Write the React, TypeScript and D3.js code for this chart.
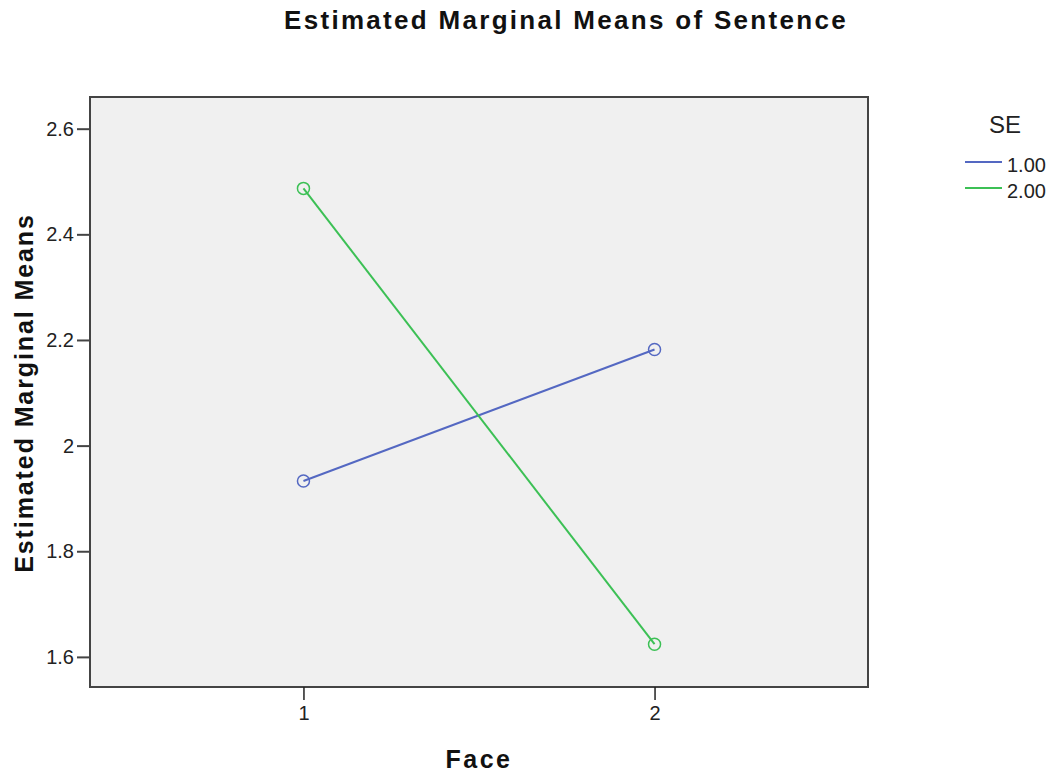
import React, {useEffect, useRef} from 'react';
import * as d3 from 'd3';

const faces = ['1', '2'];
const seriesNames = ['1.00', '2.00'];
const seValues1 = [1.933, 2.182];
const seValues2 = [2.487, 1.624];
const yTicks = [1.6, 1.8, 2.0, 2.2, 2.4, 2.6];
const colors = ['#5468c2', '#3cc055'];

const App = () => {
  const svgRef = useRef<SVGSVGElement>(null);

  useEffect(() => {
    const width = 1053;
    const height = 778;
    const margin = { top: 97, right: 185, bottom: 91, left: 90 };
    const svg = d3.select(svgRef.current);
    svg.selectAll('*').remove();

    const font = 'Arial, "Liberation Sans", sans-serif';

    const x = d3.scalePoint<string>()
      .domain(faces)
      .range([margin.left, width - margin.right])
      .padding(0.608);

    const y = d3.scaleLinear()
      .domain([1.543, 2.66])
      .range([height - margin.bottom, margin.top]);

    svg.append('rect')
      .attr('x', margin.left)
      .attr('y', margin.top)
      .attr('width', width - margin.left - margin.right)
      .attr('height', height - margin.top - margin.bottom)
      .attr('fill', '#f0f0f0')
      .attr('stroke', '#444')
      .attr('stroke-width', 2);

    // y axis
    const yAxis = svg.append('g')
      .attr('transform', `translate(${margin.left},0)`)
      .call(d3.axisLeft(y).tickValues(yTicks).tickSize(13).tickPadding(3)
        .tickFormat(d => d3.format('~g')(d as number)));
    yAxis.select('.domain').remove();
    yAxis.selectAll('line').attr('stroke', '#444').attr('stroke-width', 2);
    yAxis.selectAll('text')
      .attr('font-family', font)
      .style('font-size', '20px')
      .attr('fill', '#222');

    const xAxis = svg.append('g')
      .attr('transform', `translate(0,${height - margin.bottom})`)
      .call(d3.axisBottom(x).tickSize(13).tickPadding(6));
    xAxis.select('.domain').remove();
    xAxis.selectAll('line').attr('stroke', '#222').attr('stroke-width', 1.5);
    xAxis.selectAll('text')
      .attr('font-family', font)
      .style('font-size', '20px')
      .attr('fill', '#222');

    const allSeries = [seValues1, seValues2];
    const line = d3.line<number>()
      .x((_, i) => x(faces[i]) as number)
      .y(v => y(v));

    allSeries.forEach((vals, si) => {
      svg.append('path')
        .datum(vals)
        .attr('fill', 'none')
        .attr('stroke', colors[si])
        .attr('stroke-width', 2)
        .attr('d', line);
      svg.selectAll(null)
        .data(vals)
        .enter()
        .append('circle')
        .attr('cx', (_, i) => x(faces[i]) as number)
        .attr('cy', v => y(v))
        .attr('r', 6)
        .attr('fill', 'none')
        .attr('stroke', colors[si])
        .attr('stroke-width', 1.5);
    });

    // titles
    svg.append('text')
      .attr('x', 566)
      .attr('y', 29)
      .attr('text-anchor', 'middle')
      .attr('font-family', font)
      .attr('font-weight', 'bold')
      .attr('font-size', 26)
      .attr('letter-spacing', 2.3)
      .attr('fill', '#111')
      .text('Estimated Marginal Means of Sentence');

    svg.append('text')
      .attr('x', 479)
      .attr('y', 768)
      .attr('text-anchor', 'middle')
      .attr('font-family', font)
      .attr('font-weight', 'bold')
      .attr('font-size', 25)
      .attr('letter-spacing', 2.5)
      .attr('fill', '#111')
      .text('Face');

    svg.append('text')
      .attr('transform', `translate(33,393) rotate(-90)`)
      .attr('text-anchor', 'middle')
      .attr('font-family', font)
      .attr('font-weight', 'bold')
      .attr('font-size', 25)
      .attr('letter-spacing', 1.9)
      .attr('fill', '#111')
      .text('Estimated Marginal Means');

    // legend
    const legend = svg.append('g');
    legend.append('text')
      .attr('x', 1005)
      .attr('y', 133)
      .attr('text-anchor', 'middle')
      .attr('font-family', font)
      .attr('font-size', 24)
      .attr('fill', '#222')
      .text('SE');
    seriesNames.forEach((name, i) => {
      const ly = 162 + i * 26;
      legend.append('line')
        .attr('x1', 965).attr('x2', 1002)
        .attr('y1', ly).attr('y2', ly)
        .attr('stroke', colors[i])
        .attr('stroke-width', 2);
      legend.append('text')
        .attr('x', 1007)
        .attr('y', ly + 10)
        .attr('font-family', font)
        .attr('font-size', 20)
        .attr('fill', '#222')
        .text(name);
    });
  }, []);

  return (
    <svg ref={svgRef} width={1053} height={778}
      style={{position: 'absolute', left: 0, top: 0, background: '#fff'}} />
  );
};

export default App;
